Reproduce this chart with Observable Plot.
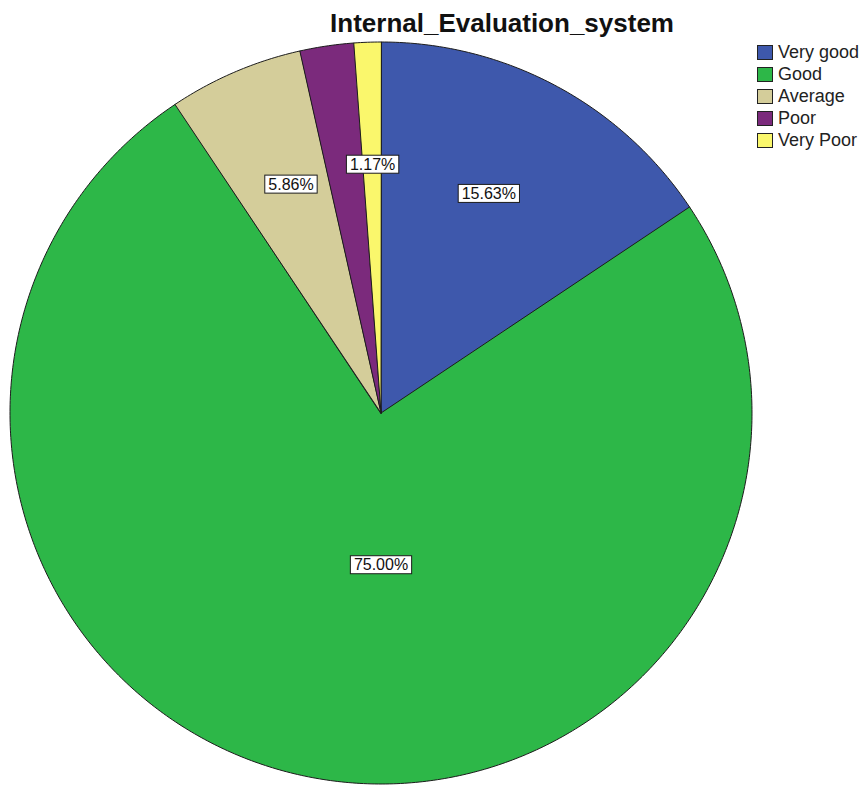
<!DOCTYPE html>
<html>
<head>
<meta charset="utf-8">
<script src="https://cdn.jsdelivr.net/npm/d3@7"></script>
<script src="https://cdn.jsdelivr.net/npm/@observablehq/plot@0.6"></script>
<style>
  body { margin: 0; background: #fff; font-family: Arial, "Liberation Sans", sans-serif; }
  #wrap { position: relative; width: 864px; height: 785px; overflow: hidden; }
  #title { position: absolute; left: 502px; top: 8px; transform: translateX(-50%); white-space: nowrap;
           font: bold 26px Arial, "Liberation Sans", sans-serif; color: #111; line-height: 30px; }
  #legend { position: absolute; left: 757px; top: 41px; font: 18px Arial, "Liberation Sans", sans-serif; color: #222; }
  .row { display: flex; align-items: center; height: 22px; white-space: nowrap; }
  .sw { width: 16px; height: 15px; border: 1px solid #222; box-sizing: border-box; margin-right: 5px; flex: none; }
</style>
</head>
<body>
<div id="wrap">
  <div id="chart"></div>
  <div id="title"></div>
  <div id="legend"></div>
</div>
<script>
const title = "Internal_Evaluation_system";
const categories = ["Very good", "Good", "Average", "Poor", "Very Poor"];
const percents = [15.63, 75.00, 5.86, 2.34, 1.17];
const colors = ["#3E58AC", "#2DB748", "#D4CD9A", "#7B2A7C", "#FAF76C"];

const data = categories.map((c, i) => ({category: c, value: percents[i]}));
const arcs = d3.pie().sort(null).value(d => d.value)(data);

// slice outlines in unit-circle data coordinates (angles clockwise from 12 o'clock)
const slicePts = [];
arcs.forEach(a => {
  const cat = a.data.category;
  slicePts.push({category: cat, x: 0, y: 0});
  const n = Math.max(2, Math.ceil((a.endAngle - a.startAngle) / 0.01));
  for (let k = 0; k <= n; k++) {
    const t = a.startAngle + (a.endAngle - a.startAngle) * k / n;
    slicePts.push({category: cat, x: Math.sin(t), y: Math.cos(t)});
  }
});

// label placement: along the slice's mid angle; the dominant slice gets its label below the centre
const labels = arcs.map(a => {
  const big = a.data.value > 50;
  const mid = big ? Math.PI : (a.startAngle + a.endAngle) / 2;
  const r = big ? 0.41 : 0.67;
  return {category: a.data.category, text: a.data.value.toFixed(2) + "%", x: r * Math.sin(mid) * (big ? 1 : 0.92), y: r * Math.cos(mid)};
});
// drop labels that collide with a later one (as the source does for the small slices)
const kept = [];
for (let i = labels.length - 1; i >= 0; i--) {
  const L = labels[i];
  if (kept.every(K => Math.abs(K.x - L.x) > 0.17 || Math.abs(K.y - L.y) > 0.06)) kept.push(L);
}

const R = 371, cx = 380.5, cy = 412.5;
const chart = Plot.plot({
  width: 864, height: 785,
  margin: 0,
  x: {domain: [-1, 1], range: [cx - R, cx + R], axis: null},
  y: {domain: [-1, 1], range: [cy + R, cy - R], axis: null},
  color: {domain: categories, range: colors},
  marks: [
    Plot.line(slicePts, {x: "x", y: "y", z: "category", fill: "category", stroke: "#1c1c1c", strokeWidth: 1, curve: "linear-closed", strokeLinejoin: "round"}),
    Plot.text(kept, {x: "x", y: "y", text: "text", fontSize: 16, fill: "#111", fontFamily: "Arial, 'Liberation Sans', sans-serif", className: "pct"})
  ]
});
document.getElementById("chart").appendChild(chart);

// white boxes behind the percentage labels
chart.querySelectorAll("g.pct text").forEach(t => {
  const b = t.getBBox();
  const r = document.createElementNS("http://www.w3.org/2000/svg", "rect");
  r.setAttribute("x", b.x - 3.5); r.setAttribute("y", b.y - 0.5);
  r.setAttribute("width", b.width + 7); r.setAttribute("height", b.height + 1);
  r.setAttribute("fill", "#fff"); r.setAttribute("stroke", "#1c1c1c"); r.setAttribute("stroke-width", 1);
  const tr = t.getAttribute("transform");
  if (tr) r.setAttribute("transform", tr);
  t.parentNode.insertBefore(r, t);
});

document.getElementById("title").textContent = title;
const leg = document.getElementById("legend");
categories.forEach((c, i) => {
  const row = document.createElement("div"); row.className = "row";
  const sw = document.createElement("span"); sw.className = "sw"; sw.style.background = colors[i];
  const tx = document.createElement("span"); tx.textContent = c;
  row.appendChild(sw); row.appendChild(tx); leg.appendChild(row);
});
</script>
</body>
</html>
